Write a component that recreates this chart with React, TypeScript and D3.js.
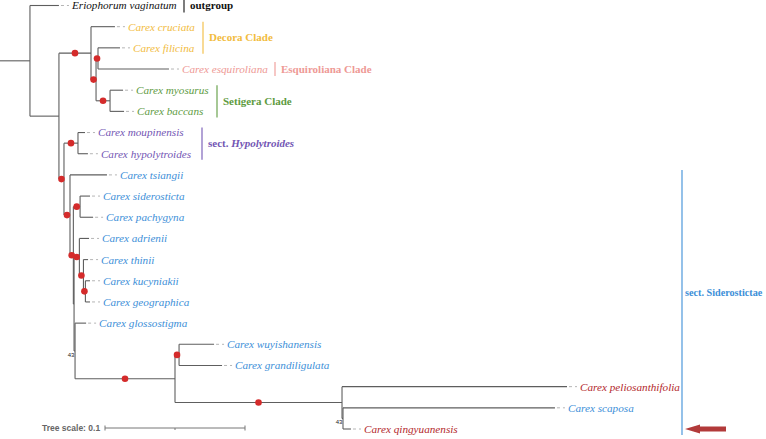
import React, { useMemo } from "react";
import * as d3 from "d3";

// ---- DATA ----
// tree nodes: id, parent, branch length (substitutions/site), supported (red dot), bootstrap label
const NODE_IDS = [
  "root", "Eriophorum vaginatum", "Carex",
  "A", "Carex cruciata", "B", "C", "Carex filicina", "Carex esquiroliana", "D", "Carex myosurus", "Carex baccans",
  "E", "Hyp", "Carex moupinensis", "Carex hypolytroides",
  "F", "Carex tsiangii", "K", "SP", "Carex siderosticta", "Carex pachygyna",
  "L", "ADR", "Carex adrienii", "TH", "Carex thinii", "KG", "Carex kucyniakii", "Carex geographica",
  "S", "Carex glossostigma", "R", "WG", "Carex wuyishanensis", "Carex grandiligulata",
  "P", "Carex peliosanthifolia", "Q", "Carex scaposa", "Carex qingyuanensis",
];
const NODE_PARENTS = [
  "", "root", "root",
  "Carex", "A", "A", "B", "C", "C", "B", "D", "D",
  "Carex", "E", "Hyp", "Hyp",
  "E", "F", "F", "K", "SP", "SP",
  "K", "L", "ADR", "ADR", "TH", "TH", "KG", "KG",
  "L", "S", "S", "R", "WG", "WG",
  "R", "P", "P", "Q", "Q",
];
const BRANCH_LENGTHS = [
  0.0214, 0.0207, 0.0207,
  0.0229, 0.0171, 0.0036, 0.0014, 0.0157, 0.0507, 0.01, 0.0093, 0.01,
  0.0036, 0.01, 0.005, 0.0071,
  0.0043, 0.0264, 0.0024, 0.0048, 0.0071, 0.0093,
  0.0005, 0.0038, 0.0069, 0.0029, 0.0033, 0.0014, 0.0033, 0.0033,
  0.0007, 0.0079, 0.0714, 0.0029, 0.025, 0.0307,
  0.1193, 0.1607, 0.0007, 0.1514, 0.0057,
];
const SUPPORTED_NODES = ["A", "B", "C", "D", "E", "Hyp", "F", "K", "SP", "ADR", "TH", "KG", "R", "WG", "P"];
const BOOTSTRAP_NODES = ["S", "Q"];
const BOOTSTRAP_VALUES = [43, 43];

// leaf groups
const OUTGROUP = ["Eriophorum vaginatum"];
const DECORA = ["Carex cruciata", "Carex filicina"];
const ESQUIROLIANA = ["Carex esquiroliana"];
const SETIGERA = ["Carex myosurus", "Carex baccans"];
const HYPOLYTROIDES = ["Carex moupinensis", "Carex hypolytroides"];
const SIDEROSTICTAE = [
  "Carex tsiangii", "Carex siderosticta", "Carex pachygyna", "Carex adrienii", "Carex thinii",
  "Carex kucyniakii", "Carex geographica", "Carex glossostigma", "Carex wuyishanensis",
  "Carex grandiligulata", "Carex peliosanthifolia", "Carex scaposa", "Carex qingyuanensis",
];
const HIGHLIGHTED = ["Carex peliosanthifolia", "Carex qingyuanensis"];
const TREE_SCALE = 0.1;

// ---- STYLE / LAYOUT ----
const W = 766, H = 439;
const LINE = "#5e5e5e";
const COLORS = {
  outgroup: "#111111",
  decora: "#F2BC3E",
  esq: "#EE9995",
  setigera: "#5E9B3F",
  hyp: "#7356B4",
  sid: "#3D8FD8",
  red: "#B3282C",
  dot: "#D42B2B",
};
const CLADES = [
  { leaves: OUTGROUP, color: COLORS.outgroup, barX: 184, parts: [{ t: "outgroup", i: false }], dy: 0, fs: 11 },
  { leaves: DECORA, color: COLORS.decora, barX: 203, parts: [{ t: "Decora Clade", i: false }], dy: 0, fs: 11 },
  { leaves: ESQUIROLIANA, color: COLORS.esq, barX: 275, parts: [{ t: "Esquiroliana Clade", i: false }], dy: 0, fs: 11 },
  { leaves: SETIGERA, color: COLORS.setigera, barX: 217, parts: [{ t: "Setigera Clade", i: false }], dy: 0, fs: 11 },
  { leaves: HYPOLYTROIDES, color: COLORS.hyp, barX: 202, parts: [{ t: "sect. ", i: false }, { t: "Hypolytroides", i: true }], dy: 0, fs: 11 },
  { leaves: SIDEROSTICTAE, color: COLORS.sid, barX: 682, parts: [{ t: "sect. Siderostictae", i: false }], dy: -10, fs: 10.2 },
];

function leafColor(name: string) {
  if (HIGHLIGHTED.includes(name)) return COLORS.red;
  if (OUTGROUP.includes(name)) return COLORS.outgroup;
  if (DECORA.includes(name)) return COLORS.decora;
  if (ESQUIROLIANA.includes(name)) return COLORS.esq;
  if (SETIGERA.includes(name)) return COLORS.setigera;
  if (HYPOLYTROIDES.includes(name)) return COLORS.hyp;
  return COLORS.sid;
}

export default function App() {
  const layout = useMemo(() => {
    const rows = NODE_IDS.map((id, i) => ({ id, parent: NODE_PARENTS[i] || null, len: BRANCH_LENGTHS[i] }));
    const root: any = d3.stratify<any>().id((d) => d.id).parentId((d) => d.parent)(rows);
    const xScale = d3.scaleLinear().domain([0, TREE_SCALE]).range([0, 140]);
    root.eachBefore((n: any) => {
      n.dist = (n.parent ? n.parent.dist : 0) + n.data.len;
    });
    const leaves = root.leaves();
    const yScale = d3.scalePoint<string>().domain(leaves.map((l: any) => l.id)).range([5.5, 429]);
    root.eachAfter((n: any) => {
      if (!n.children) n.yy = yScale(n.id)!;
      else n.yy = (n.children[0].yy + n.children[n.children.length - 1].yy) / 2;
    });
    return { root, xScale, yScale, leaves };
  }, []);

  const { root, xScale, yScale, leaves } = layout;
  const nodes: any[] = root.descendants();
  const px = (n: any) => xScale(n.dist);

  const serif = "'Liberation Serif', 'Times New Roman', serif";
  const sans = "'Liberation Sans', Arial, sans-serif";

  return (
    <svg width={W} height={H} style={{ position: "absolute", left: 0, top: 0, background: "#fff" }}>
      {/* root stub */}
      <line x1={xScale(0)} x2={px(root)} y1={root.yy} y2={root.yy} stroke={LINE} strokeWidth={1.1} />
      {/* horizontal branches */}
      {nodes.filter((n) => n.parent).map((n) => (
        <line key={"h" + n.id} x1={px(n.parent)} x2={px(n)} y1={n.yy} y2={n.yy} stroke={LINE} strokeWidth={1.1} />
      ))}
      {/* vertical connectors */}
      {nodes.filter((n) => n.children).map((n) => (
        <line key={"v" + n.id} x1={px(n)} x2={px(n)} y1={n.children[0].yy} y2={n.children[n.children.length - 1].yy} stroke={LINE} strokeWidth={1.1} />
      ))}
      {/* support dots */}
      {nodes.filter((n) => SUPPORTED_NODES.includes(n.id)).map((n) => (
        <circle key={"d" + n.id} cx={(px(n.parent) + px(n)) / 2} cy={n.yy} r={3.3} fill={COLORS.dot} />
      ))}
      {/* bootstrap labels */}
      {nodes.filter((n) => BOOTSTRAP_NODES.includes(n.id)).map((n) => (
        <text key={"b" + n.id} x={px(n) - 4} y={n.yy + 6} fontSize={6} fontFamily={sans} textAnchor="middle" fill="#222">
          {BOOTSTRAP_VALUES[BOOTSTRAP_NODES.indexOf(n.id)]}
        </text>
      ))}
      {/* leaf connectors and labels */}
      {leaves.map((l: any) => (
        <g key={"l" + l.id}>
          <line x1={px(l) + 2} x2={px(l) + 10} y1={l.yy} y2={l.yy} stroke="#b5b5b5" strokeWidth={1} strokeDasharray="3,3" />
          <text x={px(l) + 13} y={l.yy} dy="0.35em" fontSize={11.2} fontStyle="italic" fontFamily={serif} fill={leafColor(l.id)}>
            {l.id}
          </text>
        </g>
      ))}
      {/* clade annotations */}
      {CLADES.map((c, i) => {
        const ys = c.leaves.map((n) => yScale(n)!);
        const y0 = d3.min(ys)!, y1 = d3.max(ys)!;
        const top = c.leaves.length === 1 ? y0 - 7 : y0 - 5;
        const bot = c.leaves.length === 1 ? y1 + 7 : y1 + 6;
        const mid = (y0 + y1) / 2 + c.dy;
        const tx = c.barX + (c.fs < 11 ? 3 : 6);
        return (
          <g key={"c" + i}>
            <line x1={c.barX} x2={c.barX} y1={Math.max(0, top)} y2={bot} stroke={c.color} strokeWidth={1.1} />
            <text x={tx} y={mid} dy="0.35em" fontSize={c.fs} fontWeight="bold" fontFamily={serif} fill={c.color}>
              {c.parts.map((p, j) => (
                <tspan key={j} fontStyle={p.i ? "italic" : "normal"}>{p.t}</tspan>
              ))}
            </text>
          </g>
        );
      })}
      {/* arrow pointing at the new species */}
      {(() => {
        const y = yScale("Carex qingyuanensis")!;
        return (
          <path
            d={`M685,${y} L700,${y - 4.5} L700,${y - 2.5} L726,${y - 2.5} L726,${y + 2.5} L700,${y + 2.5} L700,${y + 4.5} Z`}
            fill="#B23A3A"
          />
        );
      })()}
      {/* tree scale */}
      <text x={42} y={428} dy="0.35em" fontSize={8.5} fontWeight="bold" fontFamily={sans} fill="#666">
        Tree scale: {TREE_SCALE}
      </text>
      <g stroke="#777" strokeWidth={1}>
        <line x1={105} x2={105 + xScale(TREE_SCALE)} y1={428} y2={428} />
        <line x1={105} x2={105} y1={425.5} y2={430.5} />
        <line x1={105 + xScale(TREE_SCALE)} x2={105 + xScale(TREE_SCALE)} y1={425.5} y2={430.5} />
        <line x1={105 + xScale(TREE_SCALE / 2)} x2={105 + xScale(TREE_SCALE / 2)} y1={428} y2={430} />
      </g>
    </svg>
  );
}
